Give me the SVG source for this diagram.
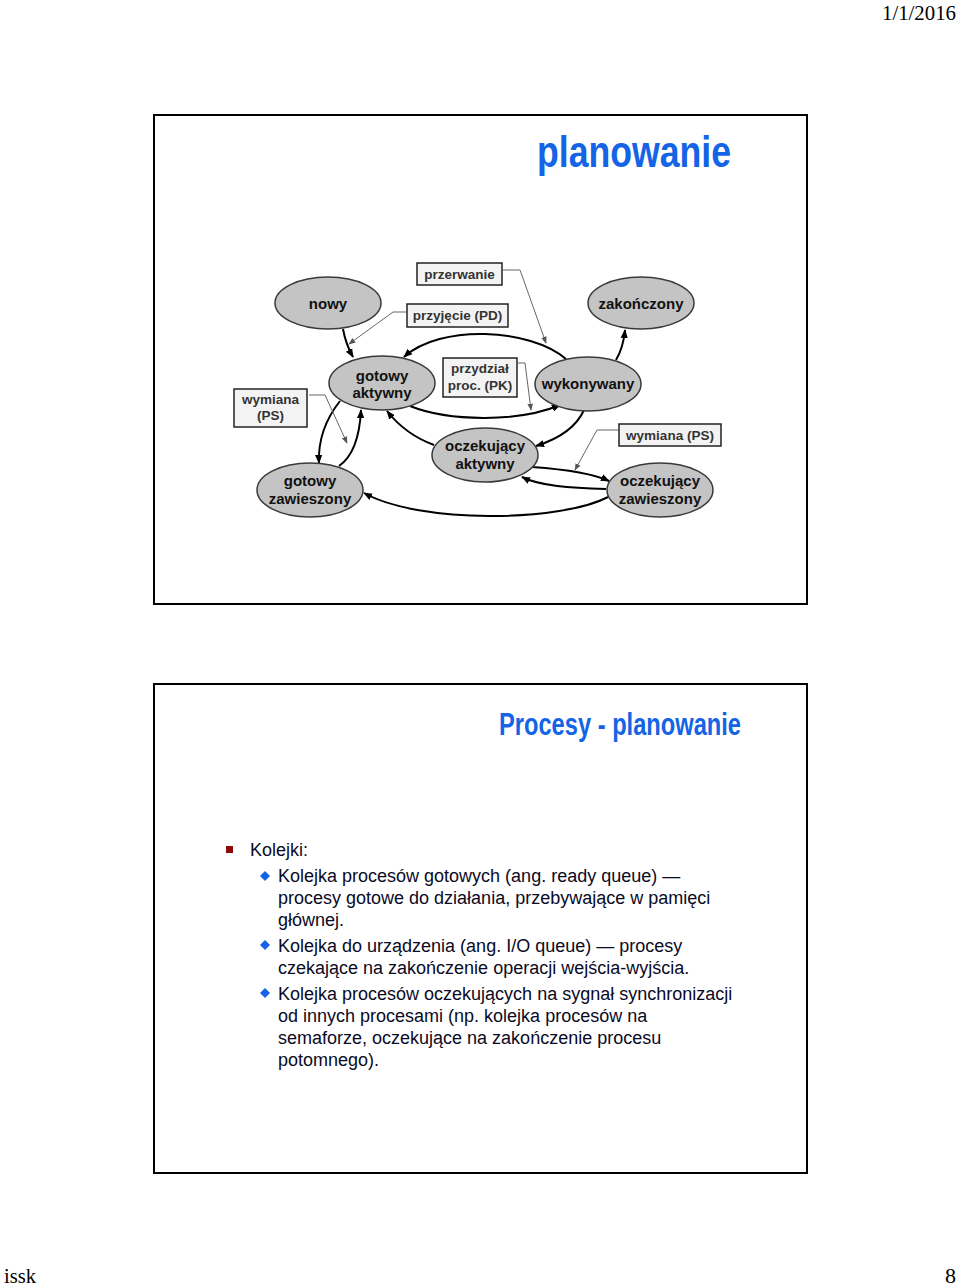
<svg xmlns="http://www.w3.org/2000/svg" width="960" height="1288" viewBox="0 0 960 1288">
<defs>
<style>
.frame{fill:#fff;stroke:#000;stroke-width:2}
.node{fill:#c4c4c4;stroke:#3a3a3a;stroke-width:1.5}
.nt{font-family:"Liberation Sans",Arial,sans-serif;font-weight:bold;font-size:15px;fill:#111;text-anchor:middle}
.box{fill:#f3f3f3;stroke:#222;stroke-width:1.5}
.bt{font-family:"Liberation Sans",Arial,sans-serif;font-weight:bold;font-size:13.5px;fill:#333;text-anchor:middle}
.edge{fill:none;stroke:#000;stroke-width:2}
.lead{fill:none;stroke:#666;stroke-width:1}
.hdr{font-family:"Liberation Serif","Times New Roman",serif;font-size:22px;fill:#000}
.title{font-family:"Liberation Sans",Arial,sans-serif;font-weight:bold;fill:#1464e6}
.body{font-family:"Liberation Sans",Arial,sans-serif;font-size:18px;fill:#0a0a25}
</style>
<marker id="ah" viewBox="0 0 10 10" refX="9" refY="5" markerWidth="9" markerHeight="9" markerUnits="userSpaceOnUse" orient="auto">
<path d="M0,1 L10,5 L0,9 z" fill="#000"/>
</marker>
<marker id="lh" viewBox="0 0 10 10" refX="9" refY="5" markerWidth="7" markerHeight="7" markerUnits="userSpaceOnUse" orient="auto">
<path d="M0,1 L10,5 L0,9 z" fill="#555"/>
</marker>
</defs>
<rect width="960" height="1288" fill="#fff"/>
<text class="hdr" x="956" y="20" text-anchor="end" textLength="74" lengthAdjust="spacingAndGlyphs">1/1/2016</text>
<text class="hdr" x="4" y="1283" textLength="32" lengthAdjust="spacingAndGlyphs">issk</text>
<text class="hdr" x="956" y="1283" text-anchor="end">8</text>

<g id="slide1">
<rect class="frame" x="154" y="115" width="653" height="489"/>
<text class="title" x="537" y="167" font-size="44" textLength="194" lengthAdjust="spacingAndGlyphs">planowanie</text>
</g>

<g id="connectors">
<path class="edge" d="M343,329 C345,340 349,350 353,357" marker-end="url(#ah)"/>
<path class="edge" d="M566,359 C530,328 440,324 404,357" marker-end="url(#ah)"/>
<path class="edge" d="M410,406 C450,422 520,422 560,405" marker-end="url(#ah)"/>
<path class="edge" d="M616,360 C622,350 624,340 625,330" marker-end="url(#ah)"/>
<path class="edge" d="M584,410 C575,430 555,440 536,446" marker-end="url(#ah)"/>
<path class="edge" d="M434,445 C415,438 398,425 387,411" marker-end="url(#ah)"/>
<path class="edge" d="M340,401 C325,420 318,440 319,463" marker-end="url(#ah)"/>
<path class="edge" d="M339,466 C355,455 360,430 361,410" marker-end="url(#ah)"/>
<path class="edge" d="M608,497 C560,522 420,524 364,493" marker-end="url(#ah)"/>
<path class="edge" d="M532,467 C560,469 590,472 609,481" marker-end="url(#ah)"/>
<path class="edge" d="M606,489 C570,488 540,486 522,477" marker-end="url(#ah)"/>
<path class="lead" d="M503,270 L520,270 L546,343" marker-end="url(#lh)"/>
<path class="lead" d="M406,312 L393,312 L349,344" marker-end="url(#lh)"/>
<path class="lead" d="M518,363 L525,363 L531,410" marker-end="url(#lh)"/>
<path class="lead" d="M309,395 L325,395 L347,443" marker-end="url(#lh)"/>
<path class="lead" d="M618,430 L597,430 L575,470" marker-end="url(#lh)"/>
</g>

<g id="nowy"><ellipse class="node" cx="328" cy="303" rx="53" ry="26"/><text class="nt" x="328" y="309">nowy</text></g>
<g id="zakonczony"><ellipse class="node" cx="641" cy="303" rx="53" ry="26"/><text class="nt" x="641" y="309">zakończony</text></g>
<g id="gotowy-aktywny"><ellipse class="node" cx="382" cy="383" rx="53" ry="27"/><text class="nt" x="382" y="381">gotowy</text><text class="nt" x="382" y="398">aktywny</text></g>
<g id="wykonywany"><ellipse class="node" cx="588" cy="384" rx="53" ry="27"/><text class="nt" x="588" y="389">wykonywany</text></g>
<g id="oczekujacy-aktywny"><ellipse class="node" cx="485" cy="455" rx="53" ry="27"/><text class="nt" x="485" y="451">oczekujący</text><text class="nt" x="485" y="469">aktywny</text></g>
<g id="gotowy-zawieszony"><ellipse class="node" cx="310" cy="490" rx="53" ry="27"/><text class="nt" x="310" y="486">gotowy</text><text class="nt" x="310" y="504">zawieszony</text></g>
<g id="oczekujacy-zawieszony"><ellipse class="node" cx="660" cy="490" rx="53" ry="27"/><text class="nt" x="660" y="486">oczekujący</text><text class="nt" x="660" y="504">zawieszony</text></g>

<g id="lbl-przerwanie"><rect class="box" x="417" y="263" width="85" height="22"/><text class="bt" x="459.5" y="279">przerwanie</text></g>
<g id="lbl-przyjecie"><rect class="box" x="407" y="304" width="101" height="23"/><text class="bt" x="457.5" y="320">przyjęcie (PD)</text></g>
<g id="lbl-przydzial"><rect class="box" x="443" y="358" width="74" height="39"/><text class="bt" x="480" y="373">przydział</text><text class="bt" x="480" y="390">proc. (PK)</text></g>
<g id="lbl-wymiana-l"><rect class="box" x="234" y="389" width="73" height="38"/><text class="bt" x="270.5" y="404">wymiana</text><text class="bt" x="270.5" y="420">(PS)</text></g>
<g id="lbl-wymiana-r"><rect class="box" x="619" y="424" width="102" height="22"/><text class="bt" x="670" y="440">wymiana (PS)</text></g>

<g id="slide2">
<rect class="frame" x="154" y="684" width="653" height="489"/>
<text class="title" x="499" y="735" font-size="32" textLength="242" lengthAdjust="spacingAndGlyphs">Procesy - planowanie</text>
<rect x="226" y="846" width="7" height="7" fill="#8b0a0a"/>
<text class="body" x="250" y="856" font-size="21.5">Kolejki:</text>
<path d="M265,871 L270,876 L265,881 L260,876 z" fill="#1464e6"/>
<path d="M265,940 L270,945 L265,950 L260,945 z" fill="#1464e6"/>
<path d="M265,988 L270,993 L265,998 L260,993 z" fill="#1464e6"/>
<text class="body" x="278" y="882">Kolejka procesów gotowych (ang. ready queue) —</text>
<text class="body" x="278" y="904">procesy gotowe do działania, przebywające w pamięci</text>
<text class="body" x="278" y="926">głównej.</text>
<text class="body" x="278" y="952">Kolejka do urządzenia (ang. I/O queue) — procesy</text>
<text class="body" x="278" y="974">czekające na zakończenie operacji wejścia-wyjścia.</text>
<text class="body" x="278" y="1000">Kolejka procesów oczekujących na sygnał synchronizacji</text>
<text class="body" x="278" y="1022">od innych procesami (np. kolejka procesów na</text>
<text class="body" x="278" y="1044">semaforze, oczekujące na zakończenie procesu</text>
<text class="body" x="278" y="1066">potomnego).</text>
</g>
</svg>
